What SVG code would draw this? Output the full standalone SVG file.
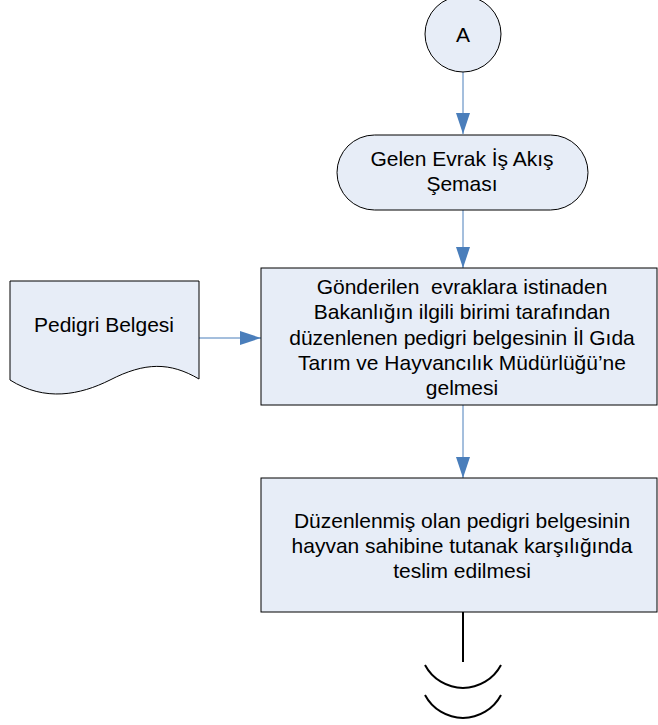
<svg xmlns="http://www.w3.org/2000/svg" width="658" height="725" viewBox="0 0 658 725">
<defs>
<style>
.shape{fill:#e7edf7;stroke:#000;stroke-width:1}
.t{font-family:"Liberation Sans",Arial,sans-serif;font-size:21px;fill:#000;text-anchor:middle}
.conn{stroke:#4a7ebb;stroke-width:1;fill:none}
.end{stroke:#000;stroke-width:2;fill:none}
</style>
<marker id="arr" markerWidth="22" markerHeight="14" refX="21" refY="7" orient="auto" markerUnits="userSpaceOnUse">
<path d="M0,0 L21,7 L0,14 Z" fill="#4a7ebb"/>
</marker>
</defs>
<g id="connectors">
<line class="conn" x1="463" y1="72" x2="463" y2="134" marker-end="url(#arr)"/>
<line class="conn" x1="463" y1="210" x2="463" y2="268" marker-end="url(#arr)"/>
<line class="conn" x1="199" y1="338" x2="261" y2="338" marker-end="url(#arr)"/>
<line class="conn" x1="463" y1="405" x2="463" y2="478" marker-end="url(#arr)"/>
</g>
<g id="nodeA">
<circle class="shape" cx="463" cy="34" r="38"/>
<text class="t" x="463" y="42">A</text>
</g>
<g id="nodeGelen">
<rect class="shape" x="337" y="135" width="251" height="75" rx="37.5" ry="37.5"/>
<text class="t" x="462" y="166">Gelen Evrak İş Akış</text>
<text class="t" x="462" y="191">Şeması</text>
</g>
<g id="nodePedigri">
<path class="shape" d="M10,281 L199,281 L199,379 C170,362 145,362 110,380 C80,395 45,402 10,380 Z"/>
<text class="t" x="104" y="332">Pedigri Belgesi</text>
</g>
<g id="nodeGonderilen">
<rect class="shape" x="261" y="268" width="396" height="137"/>
<text class="t" x="462" y="294">Gönderilen&#160; evraklara istinaden</text>
<text class="t" x="462" y="319">Bakanlığın ilgili birimi tarafından</text>
<text class="t" x="462" y="345">düzenlenen pedigri belgesinin İl Gıda</text>
<text class="t" x="462" y="370">Tarım ve Hayvancılık Müdürlüğü’ne</text>
<text class="t" x="462" y="395">gelmesi</text>
</g>
<g id="nodeDuzenlenmis">
<rect class="shape" x="261" y="478" width="396" height="134"/>
<text class="t" x="462" y="528">Düzenlenmiş olan pedigri belgesinin</text>
<text class="t" x="462" y="553">hayvan sahibine tutanak karşılığında</text>
<text class="t" x="462" y="578">teslim edilmesi</text>
</g>
<g id="nodeEnd">
<line class="end" x1="463" y1="612" x2="463" y2="662"/>
<path class="end" d="M425,665 A43,43 0 0 0 501,665"/>
<path class="end" d="M425,695 A43,43 0 0 0 501,695"/>
</g>
</svg>
